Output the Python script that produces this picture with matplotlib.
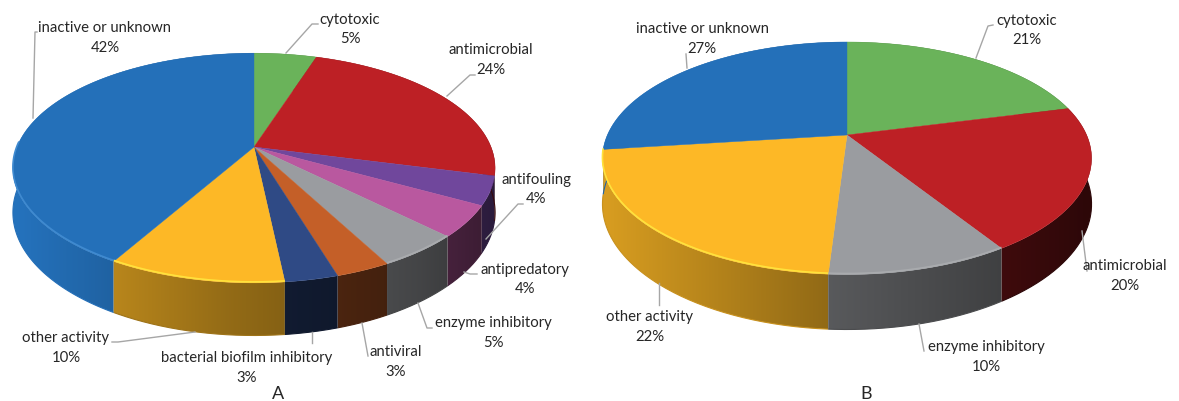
import numpy as np
import matplotlib
matplotlib.use('Agg')
from matplotlib import pyplot as plt
from matplotlib.colors import to_rgb
from matplotlib.patches import Polygon

plt.rcParams['font.family'] = ['Lato', 'DejaVu Sans']

# panel A, clockwise from 12 o'clock
labels_a = ['cytotoxic', 'antimicrobial', 'antifouling', 'antipredatory', 'enzyme inhibitory',
            'antiviral', 'bacterial biofilm inhibitory', 'other activity', 'inactive or unknown']
percent_a = [5, 24, 4, 4, 5, 3, 3, 10, 42]
# slice sizes, the printed percents are rounded
values_a = [5, 24, 4, 4.4, 4.8, 3.1, 3, 10, 41.7]
colors_a = ['#6ab35a', '#bd2025', '#70479c', '#b9589f', '#9a9ca0', '#c45f28', '#2f4a85', '#fdb826', '#2470b9']
boost_a = [1, 0.8, 1.3, 1.05, 1.1, 0.8, 0.7, 1, 1.2]
rim_a = [None, None, None, None, '#a9abae', None, None, '#ffe23c', '#3f8ad0']

# panel B
labels_b = ['cytotoxic', 'antimicrobial', 'enzyme inhibitory', 'other activity', 'inactive or unknown']
percent_b = [21, 20, 10, 22, 27]
values_b = [21, 20, 10, 22, 27]
colors_b = ['#6ab35a', '#bd2025', '#9a9ca0', '#fdb826', '#2470b9']
boost_b = [1, 0.8, 1, 1, 1.2]
rim_b = [None, None, '#a9abae', '#ffe23c', None]

# text positions in pixels: x, y of name, y of percent
text_a = [(350, 20, 39), (491, 50, 70), (536, 180, 199), (525, 270, 289), (493, 323, 343),
          (396, 352, 372), (247, 358, 378), (66, 338, 358), (105, 28, 48)]
text_b = [(1027, 21, 40), (1125, 266, 286), (986, 347, 367), (650, 317, 337), (702, 29, 49)]

leaders_a = [[(286, 54), (312, 25), (318, 25)], [(447, 97), (470, 76), (475, 76)], [(486, 240), (518, 205), (523, 205)],
             [(464, 273), (470, 275), (477, 275)], [(418, 304), (427, 329), (432, 329)], [(362, 324), (368, 357)],
             [(312, 333), (312, 344)], [(195, 333), (118, 343), (112, 343)], [(33, 119), (35, 33), (37, 33)]]
leaders_b = [[(976, 59), (988, 27), (993, 26)], [(1082, 232), (1087, 272)], [(919, 325), (924, 352)],
             [(659, 284), (659, 306)], [(687, 69), (686, 55)]]

FONT = 10.7


def shade(u):
    # side wall gets darker going left to right
    return np.interp(u, [-1, -0.1, 0.7, 1], [0.85, 0.58, 0.4, 0.3])


def draw_pie(ax, values, colors, boost, rims, cx, cy, radius, height, k, depth):
    def project(t, drop=0.0):
        x, y = np.sin(t), np.cos(t)
        w = 1 + k * y
        return cx + radius * x / w, cy - height * y / w + drop / w

    edges = np.radians(np.cumsum([0] + values) * 3.6)
    slices = list(zip(edges[:-1], edges[1:], colors, boost, rims))

    # walls back to front, the top covers the rest
    ramp = np.linspace(-1.05, 1.05, 300)
    for a0, a1, color, b, rim in sorted(slices, key=lambda s: -np.cos((s[0] + s[1]) / 2)):
        t = np.linspace(a0, a1, 150)
        xt, yt = project(t)
        xb, yb = project(t, depth)
        poly = Polygon(np.c_[np.r_[xt, xb[::-1]], np.r_[yt, yb[::-1]]], closed=True, transform=ax.transData)
        tint = np.clip(np.outer(shade(ramp), to_rgb(color)) * b, 0, 1)[np.newaxis]
        im = ax.imshow(tint, extent=(cx + radius * ramp[0], cx + radius * ramp[-1], cy + 240, cy - 140),
                       aspect='auto', interpolation='bilinear', zorder=2)
        im.set_clip_path(poly)
        # soft lower edge of the wall
        mid = (a0 + a1) / 2
        edge = np.clip(np.array(to_rgb(color)) * shade((project(mid)[0] - cx) / radius) * b, 0, 1)
        front = np.cos(t) < 0.15
        if front.any():
            ax.plot(xb[front], yb[front], color=edge, lw=0.8, zorder=2.5, solid_capstyle='butt')

    for a0, a1, color, b, rim in slices:
        t = np.linspace(a0, a1, 150)
        x, y = project(t)
        ax.fill(np.r_[cx, x, cx], np.r_[cy, y, cy], color=color, lw=0.3, zorder=3)
        front = np.cos(t) < 0.05
        if rim is not None and front.any():
            ax.plot(x[front], y[front] - 1, color=rim, lw=1.2, zorder=4, solid_capstyle='butt')


def draw_text(ax, labels, percents, text, leaders):
    for label, pct, (tx, y0, y1), line in zip(labels, percents, text, leaders):
        ax.text(tx, y0, label, ha='center', va='center', fontsize=FONT, color='#262626', zorder=6)
        ax.text(tx, y1, '%d%%' % pct, ha='center', va='center', fontsize=FONT, color='#262626', zorder=6)
        xs, ys = zip(*line)
        ax.plot(xs, ys, color='#a6a6a6', lw=1, zorder=5)


fig = plt.figure(figsize=(11.79, 4.02), dpi=100)
ax = fig.add_axes([0, 0, 1, 1])
ax.axis('off')

draw_pie(ax, values_a, colors_a, boost_a, rim_a, 254, 148, 237, 111, 0.183, 43)
draw_pie(ax, values_b, colors_b, boost_b, rim_b, 847, 136, 239.6, 111.6, 0.2, 44)
draw_text(ax, labels_a, percent_a, text_a, leaders_a)
draw_text(ax, labels_b, percent_b, text_b, leaders_b)

ax.text(278, 394, 'A', ha='center', va='center', fontsize=13, color='#262626')
ax.text(866, 394, 'B', ha='center', va='center', fontsize=13, color='#262626')

ax.set_xlim(0, 1179)
ax.set_ylim(402, 0)

fig.savefig('out.png', dpi=100)
